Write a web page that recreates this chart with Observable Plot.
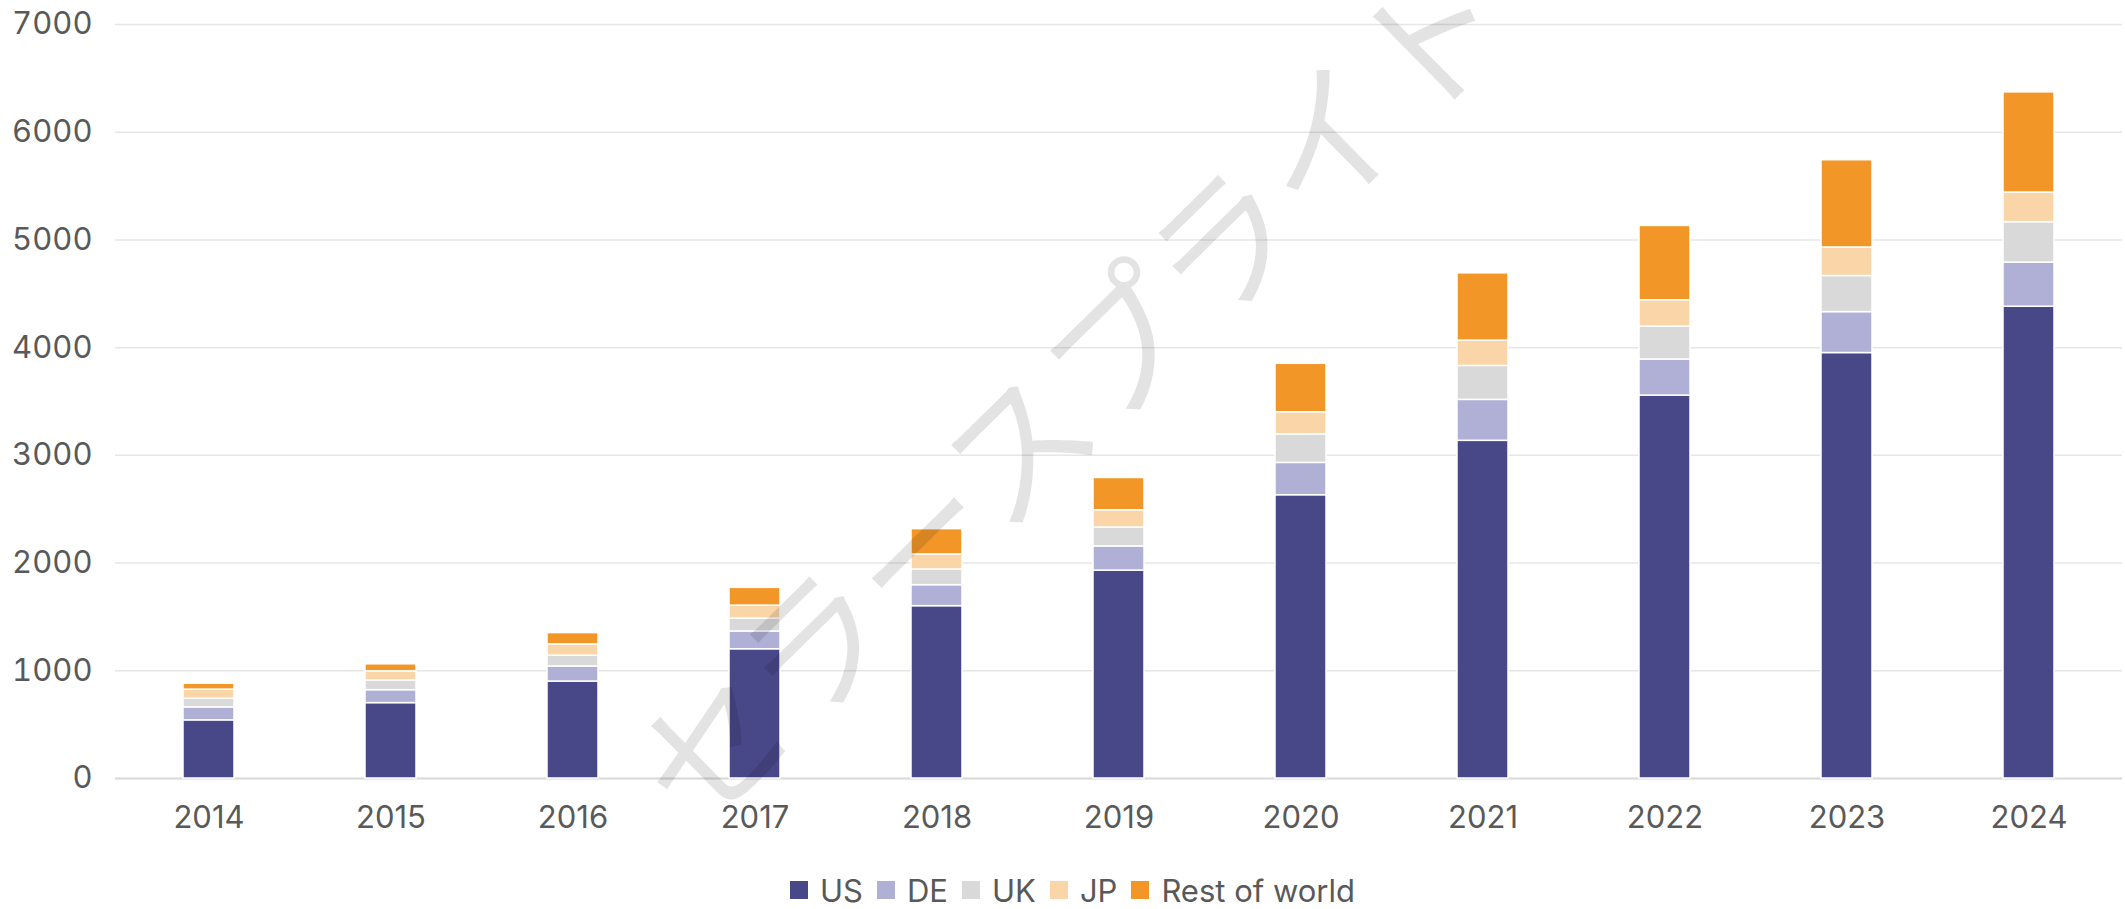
<!DOCTYPE html>
<html>
<head>
<meta charset="utf-8">
<script src="https://cdn.jsdelivr.net/npm/d3@7"></script>
<script src="https://cdn.jsdelivr.net/npm/@observablehq/plot@0.6"></script>
<style>
  html, body { margin: 0; padding: 0; background: #fff; }
  body { width: 2125px; height: 909px; overflow: hidden; font-family: Inter, "Noto Sans", sans-serif; }
  #legend { display: flex; justify-content: center; align-items: center; gap: 14px; margin-top: 22px; padding-left: 20px; font-size: 31px; color: #595959; height: 36px; }
  .item { display: flex; align-items: center; gap: 12px; }
  .sw { width: 18px; height: 18px; display: inline-block; }
</style>
</head>
<body>
<div id="chart"></div>
<div id="legend"></div>
<script>
const years = ["2014","2015","2016","2017","2018","2019","2020","2021","2022","2023","2024"];
const series = ["US", "DE", "UK", "JP", "Rest of world"];
const colors = ["#484788", "#b0b0d6", "#d9d9d9", "#f9d5a8", "#f29627"];
const usVals  = [540, 700, 900, 1200, 1600, 1930, 2630, 3135, 3555, 3950, 4380];
const deVals  = [120, 120, 140, 165, 195, 225, 300, 380, 335, 380, 410];
const ukVals  = [80, 90, 100, 120, 145, 175, 265, 315, 305, 335, 375];
const jpVals  = [85, 85, 105, 120, 140, 160, 205, 235, 245, 265, 275];
const rowVals = [55, 65, 105, 165, 235, 300, 450, 625, 690, 810, 930];
const yTicks = [0, 1000, 2000, 3000, 4000, 5000, 6000, 7000];
const watermark = ["セラースプライト"];

const valueLists = [usVals, deVals, ukVals, jpVals, rowVals];
const data = [];
series.forEach((s, si) => {
  years.forEach((yr, i) => data.push({year: yr, series: s, value: valueLists[si][i]}));
});

const plot = Plot.plot({
  width: 2125,
  height: 850,
  marginLeft: 115,
  marginRight: 3,
  marginTop: 24,
  marginBottom: 72,
  style: {fontFamily: "Inter, 'Noto Sans', sans-serif", fontSize: "31px", color: "#595959", background: "#fff", overflow: "visible"},
  x: {domain: years, paddingInner: 0.72, paddingOuter: 0.36, label: null, tickSize: 0, tickPadding: 27},
  y: {domain: [0, 7000], ticks: yTicks, label: null, tickSize: 0, tickPadding: 23, tickFormat: d => String(d)},
  color: {domain: series, range: colors},
  marks: [
    Plot.gridY(yTicks, {stroke: "#e6e6e6", strokeOpacity: 1, strokeWidth: 1.5}),
    Plot.ruleY([0], {stroke: "#d9d9d9", strokeWidth: 2}),
    Plot.barY(data, Plot.stackY({order: series}, {x: "year", y: "value", fill: "series", stroke: "white", strokeWidth: 1.5})),
    Plot.text(watermark, {frameAnchor: "middle", text: d => d, rotate: -44.5, fontSize: 145, fill: "black", fillOpacity: 0.11, dx: -42, dy: -2, fontFamily: "'Noto Sans CJK JP'"})
  ]
});
document.getElementById("chart").appendChild(plot);

const legend = document.getElementById("legend");
series.forEach((s, i) => {
  const it = document.createElement("div");
  it.className = "item";
  const sw = document.createElement("span");
  sw.className = "sw";
  sw.style.background = colors[i];
  const t = document.createElement("span");
  t.textContent = s;
  it.appendChild(sw);
  it.appendChild(t);
  legend.appendChild(it);
});
</script>
</body>
</html>
